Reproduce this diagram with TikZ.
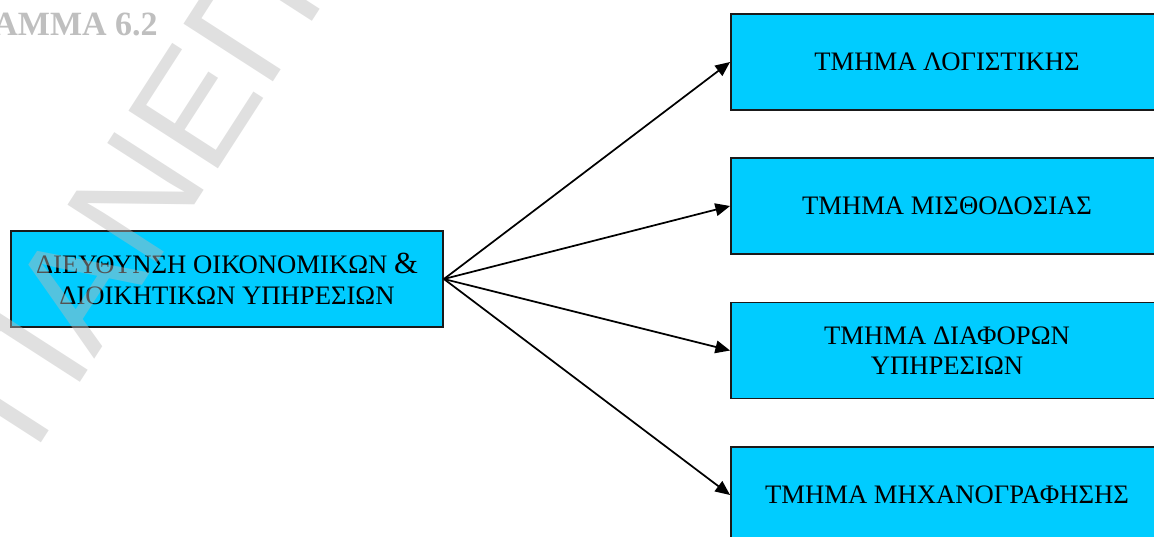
\documentclass[tikz,border=0pt]{standalone}
\usepackage{fontspec}
\setmainfont{Liberation Serif}
\newfontfamily\wmfont{Liberation Sans}
\usetikzlibrary{arrows.meta}
\definecolor{boxcyan}{HTML}{00CCFF}
\definecolor{boxline}{HTML}{1A1A1A}
\definecolor{titlegray}{HTML}{BFBFBF}
\begin{document}
\begin{tikzpicture}[x=0.75pt,y=-0.75pt,
  unitbox/.style={draw=boxline, line width=1.4pt, fill=boxcyan, minimum width=324pt,
    minimum height=72pt, inner sep=2pt, align=center,
    font=\fontsize{20}{22.8}\selectfont},
  link/.style={line width=1.3pt, -{Triangle[length=11pt,width=9.5pt]}}]
\useasboundingbox (0,0) rectangle (1154,536);
\clip (0,0) rectangle (1154,536);
\node[unitbox] (dir) at (227,279) {ΔΙΕΥΘΥΝΣΗ ΟΙΚΟΝΟΜΙΚΩΝ {\fontsize{23}{22.8}\selectfont\&}\\ΔΙΟΙΚΗΤΙΚΩΝ ΥΠΗΡΕΣΙΩΝ};
\node[unitbox] (log) at (947,62) {ΤΜΗΜΑ ΛΟΓΙΣΤΙΚΗΣ};
\node[unitbox] (mis) at (947,206) {ΤΜΗΜΑ ΜΙΣΘΟΔΟΣΙΑΣ};
\node[unitbox] (dia) at (947,350.5) {ΤΜΗΜΑ ΔΙΑΦΟΡΩΝ\\ΥΠΗΡΕΣΙΩΝ};
\node[unitbox] (mix) at (947,495) {ΤΜΗΜΑ ΜΗΧΑΝΟΓΡΑΦΗΣΗΣ};
\draw[link] (dir.east) -- (log.west);
\draw[link] (dir.east) -- (mis.west);
\draw[link] (dir.east) -- (dia.west);
\draw[link] (dir.east) -- (mix.west);
\node[anchor=base east, inner sep=0, font=\fontsize{25.5}{30}\selectfont\bfseries, text=titlegray] (title) at (158,35) {ΑΜΜΑ 6.2};
\node[anchor=base west, rotate=57.2, inner sep=0, font=\wmfont\fontsize{116}{120}\selectfont,
  text=black!27, text opacity=0.45] (wm) at (34,454) {ΠΑΝΕΠ};
\end{tikzpicture}
\end{document}
